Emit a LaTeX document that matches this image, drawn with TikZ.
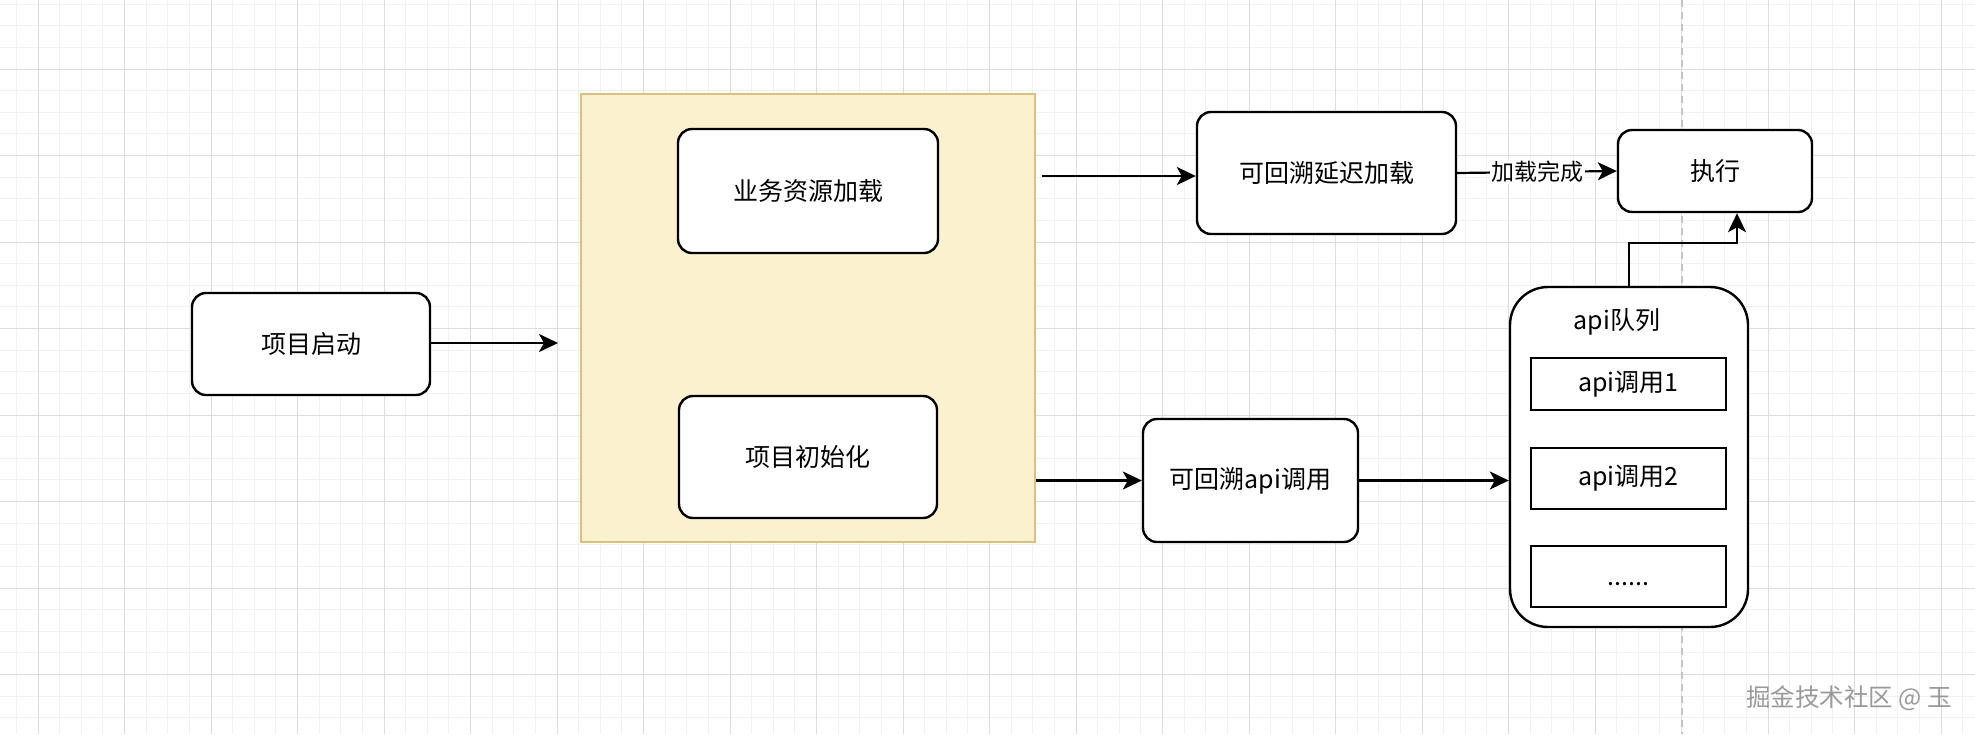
\documentclass[tikz,border=0pt]{standalone}
\usepackage{fontspec}
\newfontfamily\cjk{Noto Sans CJK SC}
\usetikzlibrary{arrows.meta}
\definecolor{gridminor}{HTML}{F1F1F1}
\definecolor{gridmajor}{HTML}{DDDDDD}
\definecolor{pageline}{HTML}{C4C4C4}
\definecolor{contfill}{HTML}{FCF1CE}
\definecolor{contdraw}{HTML}{D9C07C}
\definecolor{wmark}{HTML}{9A9A9A}
\begin{document}
\begin{tikzpicture}[x=1pt,y=-1pt,
  box/.style={draw=black, line width=2.4pt, fill=white, rounded corners=14pt, inner sep=0pt,
    font=\cjk\fontsize{25}{30}\selectfont, text=black},
  sqbox/.style={draw=black, line width=2.4pt, fill=white, inner sep=0pt,
    font=\cjk\fontsize{25}{30}\selectfont, text=black},
  arr/.style={line width=2.2pt, -{Stealth[length=19pt,width=18pt,inset=5pt]}},
  txt/.style={inner sep=0pt, font=\cjk\fontsize{25}{30}\selectfont, text=black},
]
\useasboundingbox (0,0) rectangle (1975,734);
\fill[white] (0,0) rectangle (1975,734);
% grid
\foreach \k in {-1,...,89} { \draw[gridminor, line width=0.9pt] ({38+21.625*\k},0) -- ({38+21.625*\k},734); }
\foreach \k in {-3,...,30} { \draw[gridminor, line width=0.9pt] (0,{69+21.625*\k}) -- (1975,{69+21.625*\k}); }
\foreach \k in {0,...,22} { \draw[gridmajor, line width=1pt] ({38+86.5*\k},0) -- ({38+86.5*\k},734); }
\foreach \k in {0,...,7} { \draw[gridmajor, line width=1pt] (0,{69+86.5*\k}) -- (1975,{69+86.5*\k}); }
% page break line
\draw[pageline, line width=1.2pt, dash pattern=on 7pt off 5pt] (1682,0) -- (1682,734);

% container
\node[draw=contdraw, fill=contfill, line width=2pt, minimum width=454pt, minimum height=448pt, inner sep=0pt] (cont) at (808,318) {};

% nodes
\node[box, minimum width=238pt, minimum height=102pt] (start) at (311,344) {项目启动};
\node[box, minimum width=260pt, minimum height=124pt] (biz) at (808,191) {业务资源加载};
\node[box, minimum width=258pt, minimum height=122pt] (init) at (808,457) {项目初始化};
\node[box, minimum width=259pt, minimum height=122pt] (delay) at (1326.5,173) {可回溯延迟加载};
\node[box, minimum width=194pt, minimum height=82pt] (exec) at (1715,171) {执行};
\node[box, minimum width=215pt, minimum height=123pt] (apicall) at (1250.5,480.5) {可回溯api调用};
\node[box, rounded corners=38pt, minimum width=238pt, minimum height=340pt] (queue) at (1629,457) {};
\node[txt] (qlabel) at (1617,322) {api队列};
\node[sqbox, minimum width=195pt, minimum height=52pt] (call1) at (1628.5,384) {api调用1};
\node[sqbox, minimum width=195pt, minimum height=61pt] (call2) at (1628.5,478.5) {api调用2};
\node[sqbox, minimum width=195pt, minimum height=61pt] (call3) at (1628.5,576.5) {\vphantom{调}......};

% free ends
\coordinate (contin) at (558,343);
\coordinate (contout) at (1042,176);

% connectors
\draw[arr] (start.east |- contin) -- (contin);
\draw[arr] (contout) -- (delay.west |- contout);
\draw[arr] (delay.east) -- node[fill=white, inner sep=1.5pt, font=\cjk\fontsize{23}{28}\selectfont] (lbl) {加载完成} (exec.west);
\draw[arr] (cont.east |- apicall.west) -- (apicall.west);
\draw[arr] (apicall.east) -- (queue.west |- apicall.east);
\draw[arr] (queue.north) -- ++(0,-43) -| ([xshift=22pt]exec.south);

% watermark
\node[inner sep=0pt, font=\cjk\fontsize{24.5}{28}\selectfont, text=wmark] (wm) at (1849,698) {掘金技术社区 @ 玉};
\end{tikzpicture}
\end{document}
